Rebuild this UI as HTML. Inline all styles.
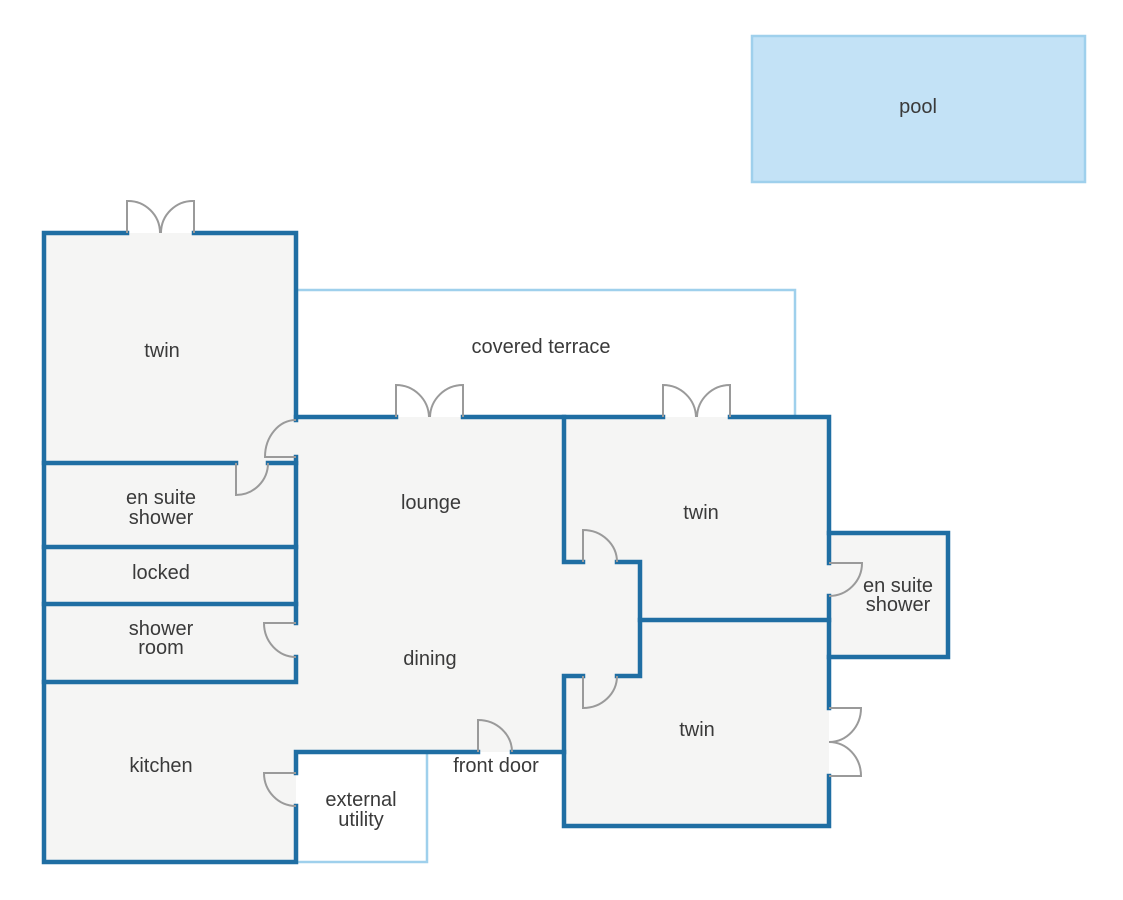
<!DOCTYPE html>
<html><head><meta charset="utf-8"><style>
html,body{margin:0;padding:0;background:#fff;}
svg{display:block;}
text{font-family:"Liberation Sans",sans-serif;font-size:20px;fill:#3a3a3a;text-anchor:middle;dominant-baseline:central;}
</style></head><body>
<svg width="1123" height="900" viewBox="0 0 1123 900" xmlns="http://www.w3.org/2000/svg">
<rect x="0" y="0" width="1123" height="900" fill="#fff"/>
<!-- pool -->
<rect x="752" y="36" width="333" height="146" fill="#c3e2f6" stroke="#9fd0ec" stroke-width="2.5"/>
<!-- room fills -->
<g fill="#f5f5f4">
<rect x="44" y="233" width="252" height="629"/>
<polygon points="296,417 564,417 564,562 640,562 640,676 564,676 564,752 296,752"/>
<rect x="564" y="417" width="265" height="409"/>
<rect x="829" y="533" width="119" height="124"/>
</g>
<!-- light blue outlines -->
<g fill="none" stroke="#9fd0ec" stroke-width="2.5">
<path d="M296,290 H795 V416"/>
<path d="M427,752 V862 H296"/>
</g>
<!-- walls -->
<g fill="none" stroke="#1f6ea3" stroke-width="4.5" stroke-linecap="square" stroke-linejoin="miter">
<path d="M127,233 H44 V862 H296 V806"/>
<path d="M296,773 V752 H478"/>
<path d="M512,752 H564 V826 H829 V776"/>
<path d="M829,708 V596"/>
<path d="M829,563 V417 H730"/>
<path d="M829,657 H948 V533 H829"/>
<path d="M663,417 H463"/>
<path d="M396,417 H296"/>
<path d="M296,420 V233 H194"/>
<path d="M296,457 V623"/>
<path d="M296,657 V682 H44"/>
<path d="M44,463 H236"/>
<path d="M268,463 H296"/>
<path d="M44,547 H296"/>
<path d="M44,604 H296"/>
<path d="M564,417 V562 H583"/>
<path d="M617,562 H640 V676 H617"/>
<path d="M583,676 H564 V752"/>
<path d="M640,620 H829"/>
</g>
<!-- doors -->
<g fill="none" stroke="#9a9a9a" stroke-width="2">
<!-- top double door twin left -->
<path d="M127,233 V201 A32,32 0 0 1 160,233"/>
<path d="M194,233 V201 A32,32 0 0 0 161,233"/>
<!-- lounge double door -->
<path d="M396,417 V385 A33,33 0 0 1 429,417"/>
<path d="M463,417 V385 A33,33 0 0 0 430,417"/>
<!-- right twin double door -->
<path d="M663,417 V385 A33,33 0 0 1 696,417"/>
<path d="M730,417 V385 A33,33 0 0 0 697,417"/>
<!-- twin left to lounge -->
<path d="M296,457 H265 A31,37 0 0 1 296,420"/>
<!-- en suite left door -->
<path d="M236,463 V495 A32,32 0 0 0 268,463"/>
<!-- shower room door -->
<path d="M296,623 H264 A32,34 0 0 0 296,657"/>
<!-- kitchen door -->
<path d="M296,773 H264 A32,33 0 0 0 296,806"/>
<!-- front door -->
<path d="M478,752 V720 A34,32 0 0 1 512,752"/>
<!-- lounge to twin top -->
<path d="M583,562 V530 A34,32 0 0 1 617,562"/>
<!-- dining to twin bottom -->
<path d="M583,676 V708 A34,32 0 0 0 617,676"/>
<!-- en suite right door -->
<path d="M829,563 H862 A33,33 0 0 1 829,596"/>
<!-- right double door bottom twin -->
<path d="M829,708 H861 A32,34 0 0 1 829,742"/>
<path d="M829,776 H861 A32,34 0 0 0 829,742"/>
</g>
<!-- labels -->
<text x="918" y="107">pool</text>
<text x="541" y="347">covered terrace</text>
<text x="162" y="351">twin</text>
<text x="161" y="498">en suite</text>
<text x="161" y="518">shower</text>
<text x="161" y="573">locked</text>
<text x="161" y="629">shower</text>
<text x="161" y="648">room</text>
<text x="161" y="766">kitchen</text>
<text x="431" y="503">lounge</text>
<text x="430" y="659">dining</text>
<text x="701" y="513">twin</text>
<text x="697" y="730">twin</text>
<text x="898" y="586">en suite</text>
<text x="898" y="605">shower</text>
<text x="361" y="800">external</text>
<text x="361" y="820">utility</text>
<text x="496" y="766">front door</text>
</svg>
</body></html>
